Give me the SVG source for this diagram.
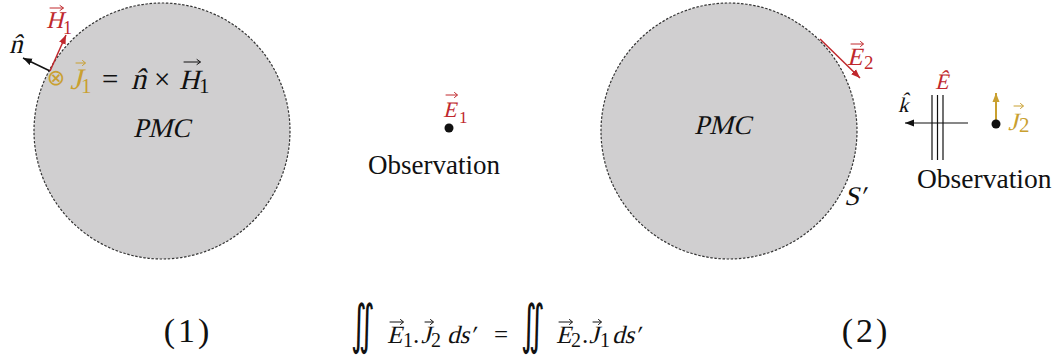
<svg xmlns="http://www.w3.org/2000/svg" width="1056" height="360" viewBox="0 0 1056 360">
<style>
.bg{fill:#ffffff}
.pmc{fill:#d0cfd0;stroke:#333;stroke-width:1.2;stroke-dasharray:2.5 1.6}
.t{font-family:"Liberation Serif","Times New Roman",serif;fill:#111}
.red{fill:#c0282d}
.gold{fill:#c9a030}
.acc{fill:none;stroke-width:1;stroke-linecap:round;stroke-linejoin:round}
.accK{stroke:#111}
.accR{stroke:#c0282d}
.accG{stroke:#c9a030}
.ln{fill:none;stroke-width:1.5}
.vl{stroke:#111;stroke-width:1.2}
</style>
<defs>
<marker id="ahK" markerWidth="10" markerHeight="8" refX="9" refY="4" orient="auto" markerUnits="userSpaceOnUse"><path d="M0,0.5 L9,4 L0,7.5 Z" fill="#111"/></marker>
<marker id="ahR" markerWidth="10" markerHeight="8" refX="9" refY="4" orient="auto" markerUnits="userSpaceOnUse"><path d="M0,0.5 L9,4 L0,7.5 Z" fill="#c0282d"/></marker>
<marker id="ahG" markerWidth="10" markerHeight="8" refX="9" refY="4" orient="auto" markerUnits="userSpaceOnUse"><path d="M0,0.5 L9,4 L0,7.5 Z" fill="#c9a030"/></marker>
</defs>
<rect class="bg" x="0" y="0" width="1056" height="360"/>

<g id="pmc1">
<circle class="pmc" cx="162" cy="131" r="128"/>
<text class="t" transform="translate(133 137) skewX(-14)" font-size="27">PMC</text>
</g>

<g id="pmc2">
<circle class="pmc" cx="729" cy="131" r="128"/>
<text class="t" transform="translate(694 134) skewX(-14)" font-size="27">PMC</text>
<text class="t" transform="translate(844 205) skewX(-14)" font-size="27">S′</text>
</g>

<g id="connectors">
<line class="ln" x1="50" y1="71" x2="23" y2="58" stroke="#111" marker-end="url(#ahK)"/>
<line class="ln" x1="50" y1="71" x2="66" y2="35" stroke="#c0282d" marker-end="url(#ahR)"/>
<line class="ln" x1="820" y1="39" x2="860" y2="78" stroke="#c0282d" marker-end="url(#ahR)"/>
<line x1="968" y1="123" x2="905" y2="123" stroke="#111" stroke-width="1.2" marker-end="url(#ahK)"/>
<line x1="996" y1="120" x2="996" y2="93" stroke="#c9a030" stroke-width="2" marker-end="url(#ahG)"/>
</g>

<g id="source1">
<text class="t red" transform="translate(46 28) skewX(-14)" font-size="24">H</text>
<text class="t red" x="63" y="34" font-size="18">1</text>
<path class="acc accR" d="M50 8H63M60 5.5L63.5 8L60 10.5"/>
<text class="t" transform="translate(9 53) skewX(-14)" font-size="27">n̂</text>
<text x="56" y="85" font-size="22" text-anchor="middle" font-family="DejaVu Sans, sans-serif" class="gold">⊗</text>
<text class="t gold" transform="translate(70 89) skewX(-14)" font-size="30">J</text>
<text class="t gold" x="81" y="93" font-size="21">1</text>
<path class="acc accG" d="M76 63H85M82.5 60.5L85.5 63L82.5 65.5"/>
<text class="t" x="102" y="89" font-size="29">=</text>
<text class="t" transform="translate(131 89) skewX(-14)" font-size="30">n̂</text>
<text class="t" x="154" y="89" font-size="29">×</text>
<text class="t" transform="translate(179 89) skewX(-14)" font-size="28">H</text>
<text class="t" x="199" y="93" font-size="21">1</text>
<path class="acc accK" d="M184 62H200M197 59.5L200.5 62L197 64.5"/>
</g>

<g id="observation1">
<text class="t red" transform="translate(443 117) skewX(-14)" font-size="22">E</text>
<text class="t red" x="459" y="123" font-size="17">1</text>
<path class="acc accR" d="M446 95H457M454.5 92.5L457.5 95L454.5 97.5"/>
<circle cx="449" cy="128" r="4.5" fill="#111"/>
<text class="t" x="368" y="174" font-size="27">Observation</text>
</g>

<g id="field2">
<text class="t red" transform="translate(847 65) skewX(-14)" font-size="25">E</text>
<text class="t red" x="864" y="69" font-size="19">2</text>
<path class="acc accR" d="M851 44H863M860.5 41.5L863.5 44L860.5 46.5"/>
</g>

<g id="wave">
<text class="t" transform="translate(898 112) skewX(-14)" font-size="21">k̂</text>
<line class="vl" x1="932" y1="95" x2="932" y2="160"/>
<line class="vl" x1="937.5" y1="95" x2="937.5" y2="160"/>
<line class="vl" x1="943" y1="95" x2="943" y2="160"/>
<text class="t red" transform="translate(935 89) skewX(-14)" font-size="22">Ê</text>
</g>

<g id="observation2">
<circle cx="996" cy="124" r="4.5" fill="#111"/>
<text class="t gold" transform="translate(1008 130) skewX(-14)" font-size="25">J</text>
<text class="t gold" x="1019" y="132" font-size="21">2</text>
<path class="acc accG" d="M1014 106H1023M1020.5 103.5L1023.5 106L1020.5 108.5"/>
<text class="t" x="917" y="188" font-size="27.5">Observation</text>
</g>

<g id="labels">
<text class="t" x="188" y="342" font-size="34" text-anchor="middle" letter-spacing="3">(1)</text>
<text class="t" x="866" y="342" font-size="34" text-anchor="middle" letter-spacing="3">(2)</text>
</g>

<g id="equation">
<text x="0" y="0" font-size="54" font-family="DejaVu Sans, sans-serif" fill="#111" transform="translate(351 343) scale(0.55 1)">∬</text>
<text class="t" transform="translate(387 343) skewX(-14)" font-size="25">E</text>
<text class="t" x="403" y="347" font-size="20">1</text>
<text class="t" x="413" y="343" font-size="25">.</text>
<text class="t" transform="translate(421 343) skewX(-14)" font-size="25">J</text>
<text class="t" x="431" y="347" font-size="20">2</text>
<text class="t" transform="translate(447 343) skewX(-14)" font-size="25">ds′</text>
<path class="acc accK" d="M390 322H403M400.5 319.5L403.5 322L400.5 324.5"/>
<path class="acc accK" d="M425 322H433M430.5 319.5L433.5 322L430.5 324.5"/>
<text class="t" x="494" y="343" font-size="25">=</text>
<text x="0" y="0" font-size="54" font-family="DejaVu Sans, sans-serif" fill="#111" transform="translate(521 343) scale(0.55 1)">∬</text>
<text class="t" transform="translate(556 343) skewX(-14)" font-size="25">E</text>
<text class="t" x="571" y="347" font-size="20">2</text>
<text class="t" x="582" y="343" font-size="25">.</text>
<text class="t" transform="translate(589 343) skewX(-14)" font-size="25">J</text>
<text class="t" x="600" y="347" font-size="20">1</text>
<text class="t" transform="translate(612 343) skewX(-14)" font-size="25">ds′</text>
<path class="acc accK" d="M559 322H572M569.5 319.5L572.5 322L569.5 324.5"/>
<path class="acc accK" d="M593 322H601M598.5 319.5L601.5 322L598.5 324.5"/>
</g>
</svg>
